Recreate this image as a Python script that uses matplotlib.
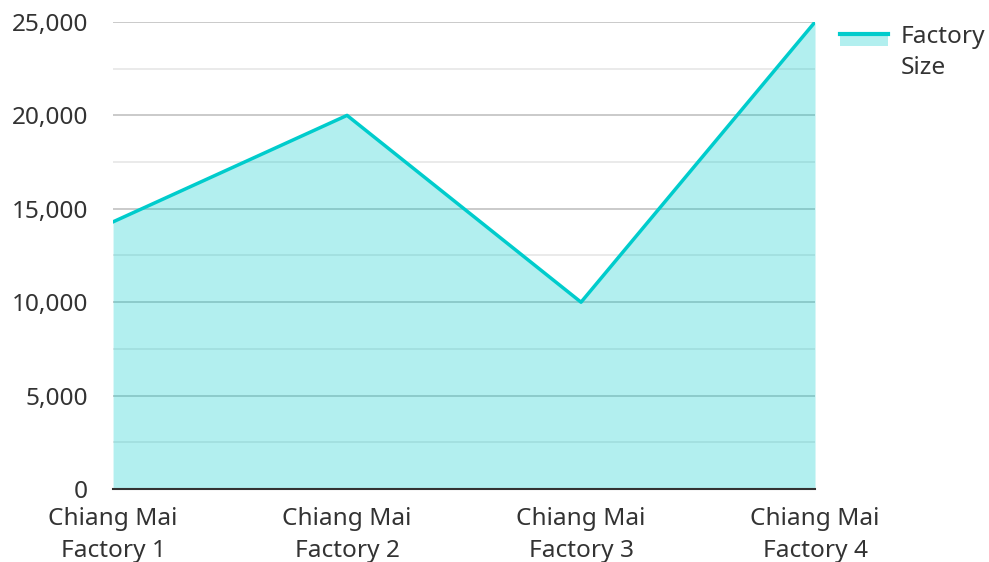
import matplotlib
matplotlib.use('Agg')
import matplotlib.pyplot as plt
from matplotlib.legend_handler import HandlerBase
from matplotlib.patches import Rectangle
from matplotlib.lines import Line2D
from matplotlib.ticker import MultipleLocator, FuncFormatter

plt.rcParams['font.family'] = ['Noto Sans', 'DejaVu Sans']

# data
factories = ['Chiang Mai\nFactory 1', 'Chiang Mai\nFactory 2', 'Chiang Mai\nFactory 3', 'Chiang Mai\nFactory 4']
factory_size = [14300, 20000, 10000, 25000]
series_name = 'Factory\nSize'

line_col = '#00cccc'
fill_alpha = 0.3
txt_col = '#333333'


class AreaKey:
    pass


class AreaHandler(HandlerBase):
    """Legend key: translucent box with the line along its top edge"""
    def create_artists(self, legend, orig_handle, xdescent, ydescent, width, height, fontsize, trans):
        top = height * 1.6
        bot = top - 12 * 0.72  # ~12 px high box
        rect = Rectangle((-xdescent, bot), width, top - bot,
                         facecolor=line_col, alpha=fill_alpha, edgecolor='none', transform=trans)
        ln = Line2D([-xdescent, -xdescent + width], [top, top], color=line_col, lw=3, transform=trans)
        return [rect, ln]


fig = plt.figure(figsize=(9.89, 5.62), dpi=100)
ax = fig.add_axes([0.1143, 0.1299, 0.7098, 0.8310])

x = list(range(len(factories)))
ax.fill_between(x, factory_size, 0, color=line_col, alpha=fill_alpha, lw=0, zorder=3)
ax.plot(x, factory_size, color=line_col, lw=2.5, zorder=4)

ax.set_xlim(0, len(factories) - 1)
ax.set_ylim(0, 25000)
ax.yaxis.set_major_locator(MultipleLocator(5000))
ax.yaxis.set_minor_locator(MultipleLocator(2500))
ax.yaxis.set_major_formatter(FuncFormatter(lambda v, p: f'{int(v):,}'))
ax.set_axisbelow(True)
ax.grid(axis='y', which='major', color='#c6c6c6', lw=1.3)
ax.grid(axis='y', which='minor', color='#e8e8e8', lw=1.3)

ax.set_xticks(x)
ax.set_xticklabels(factories)
for s in ['top', 'right', 'left']:
    ax.spines[s].set_visible(False)
ax.spines['bottom'].set_color(txt_col)
ax.spines['bottom'].set_linewidth(1.5)
ax.spines['bottom'].set_zorder(5)
ax.tick_params(axis='both', which='both', length=0, labelsize=17.6, labelcolor=txt_col)
ax.tick_params(axis='y', pad=18)
ax.tick_params(axis='x', pad=13)
for lbl in ax.get_xticklabels():
    lbl.set_linespacing(1.42)

ax.legend([AreaKey()], [series_name], handler_map={AreaKey: AreaHandler()},
          loc='upper left', bbox_to_anchor=(1.035, 0.994), frameon=False,
          fontsize=17.6, handlelength=2.0, handletextpad=0.5, labelcolor=txt_col,
          borderaxespad=0, borderpad=0)
for t in ax.get_legend().get_texts():
    t.set_linespacing(1.4)

fig.savefig('out.png', dpi=100)
